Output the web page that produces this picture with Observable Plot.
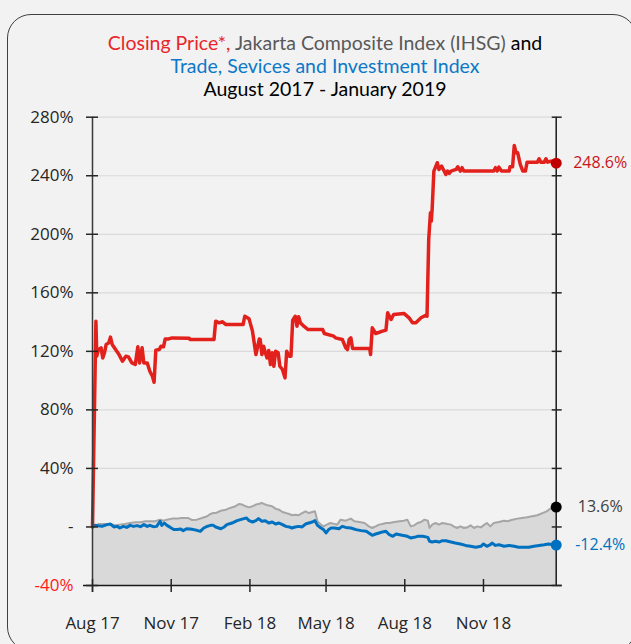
<!DOCTYPE html>
<html><head><meta charset="utf-8">
<script src="https://cdn.jsdelivr.net/npm/d3@7"></script>
<script src="https://cdn.jsdelivr.net/npm/@observablehq/plot@0.6"></script>
<style>
html,body{margin:0;padding:0;background:#f2f2f2;overflow:hidden;width:631px;height:644px;}
#wrap{position:relative;width:631px;height:644px;font-family:"Open Sans",sans-serif;}
#frame{position:absolute;left:7px;top:14px;width:630px;height:637px;border:1.5px solid #404040;border-radius:24px;box-sizing:border-box;}
#title{position:absolute;left:0;top:31px;width:650px;text-align:center;font-family:Lato,sans-serif;font-size:19.5px;line-height:23px;color:#000;}
#chart{position:absolute;left:0;top:0;}
</style></head><body>
<div id="wrap"><div id="frame"></div><div id="chart"></div>
<div id="title"><span style="color:#e8262a">Closing Price*,</span> <span style="color:#595959">Jakarta Composite Index (IHSG)</span> and<br><span style="color:#0d78c8">Trade, Sevices and Investment Index</span><br>August 2017 - January 2019</div>
</div>
<script>
const redDates = ["2017-08-01","2017-08-05","2017-08-06","2017-08-08","2017-08-11","2017-08-13","2017-08-15","2017-08-17","2017-08-20","2017-08-22","2017-08-24","2017-08-28","2017-09-01","2017-09-05","2017-09-09","2017-09-12","2017-09-16","2017-09-20","2017-09-23","2017-09-25","2017-09-28","2017-09-30","2017-10-04","2017-10-07","2017-10-10","2017-10-12","2017-10-14","2017-10-18","2017-10-20","2017-10-23","2017-10-25","2017-10-29","2017-11-02","2017-11-22","2017-11-23","2017-12-21","2017-12-23","2017-12-27","2017-12-31","2018-01-04","2018-01-24","2018-01-26","2018-01-31","2018-02-04","2018-02-08","2018-02-12","2018-02-13","2018-02-15","2018-02-17","2018-02-19","2018-02-21","2018-02-23","2018-02-25","2018-02-27","2018-03-01","2018-03-03","2018-03-06","2018-03-08","2018-03-11","2018-03-14","2018-03-16","2018-03-19","2018-03-21","2018-03-23","2018-03-26","2018-03-28","2018-03-30","2018-04-01","2018-04-05","2018-04-10","2018-04-13","2018-04-27","2018-04-29","2018-05-10","2018-05-12","2018-05-20","2018-05-24","2018-05-26","2018-05-28","2018-05-30","2018-06-01","2018-06-21","2018-06-22","2018-06-24","2018-06-28","2018-07-06","2018-07-10","2018-07-12","2018-07-16","2018-07-19","2018-07-31","2018-08-06","2018-08-10","2018-08-14","2018-08-20","2018-08-25","2018-08-27","2018-08-29","2018-08-31","2018-09-01","2018-09-02","2018-09-04","2018-09-08","2018-09-10","2018-09-13","2018-09-16","2018-09-18","2018-09-20","2018-09-22","2018-09-24","2018-09-30","2018-10-02","2018-10-05","2018-10-07","2018-10-09","2018-11-13","2018-11-15","2018-11-17","2018-11-19","2018-11-22","2018-12-01","2018-12-02","2018-12-05","2018-12-07","2018-12-09","2018-12-11","2018-12-14","2018-12-17","2018-12-20","2018-12-22","2019-01-03","2019-01-05","2019-01-07","2019-01-11","2019-01-13","2019-01-15","2019-01-19","2019-01-25"];
const redValues = [0,140.6,116.7,121.2,122.4,115.5,119.0,124.7,125.8,129.7,124.7,121.2,117.8,113.3,116.7,116.2,112.1,111.0,123.1,112.1,122.4,112.1,112.1,106.4,103.0,98.9,120.8,121.2,123.5,123.1,128.5,128.5,129.2,129.0,128.1,128.1,140.6,139.5,140.2,138.3,138.3,144.0,142.2,133.8,117.8,128.5,128.1,117.8,123.5,119.0,115.5,120.6,111.0,119.0,109.8,120.1,119.0,109.8,107.6,101.9,120.1,116.7,116.7,141.3,144.0,137.2,143.6,139.5,137.2,134.9,134.9,134.9,132.2,130.4,129.2,128.1,122.4,121.2,128.1,129.2,121.9,121.9,117.8,136.1,132.2,133.8,134.5,146.3,141.8,145.2,145.9,142.9,139.5,139.5,142.9,144.5,144.0,196.5,214.7,209.0,217.0,243.2,248.9,244.3,246.6,243.2,240.9,243.2,241.6,243.2,244.3,246.1,243.2,245.5,243.2,243.2,245.5,243.2,245.9,243.2,243.2,246.1,246.1,260.7,255.7,255.7,247.7,243.2,243.2,249.3,249.3,251.6,249.3,249.3,251.6,249.3,250.0,248.6];

const ihsgDates = ["2017-08-01","2017-08-08","2017-08-16","2017-08-22","2017-08-28","2017-09-02","2017-09-08","2017-09-14","2017-09-20","2017-09-26","2017-10-02","2017-10-07","2017-10-13","2017-10-19","2017-10-23","2017-10-27","2017-11-02","2017-11-08","2017-11-13","2017-11-21","2017-11-25","2017-12-01","2017-12-07","2017-12-13","2017-12-17","2017-12-20","2017-12-23","2017-12-29","2018-01-04","2018-01-09","2018-01-15","2018-01-19","2018-01-23","2018-01-27","2018-01-31","2018-02-04","2018-02-08","2018-02-11","2018-02-15","2018-02-19","2018-02-23","2018-02-27","2018-03-03","2018-03-07","2018-03-11","2018-03-15","2018-03-19","2018-03-22","2018-03-26","2018-03-30","2018-04-03","2018-04-07","2018-04-11","2018-04-15","2018-04-18","2018-04-21","2018-04-25","2018-04-28","2018-05-02","2018-05-06","2018-05-14","2018-05-18","2018-05-24","2018-05-30","2018-06-03","2018-06-09","2018-06-15","2018-06-20","2018-06-24","2018-06-28","2018-07-02","2018-07-06","2018-07-10","2018-07-14","2018-07-20","2018-07-26","2018-07-31","2018-08-04","2018-08-08","2018-08-12","2018-08-16","2018-08-20","2018-08-24","2018-08-28","2018-08-30","2018-09-02","2018-09-06","2018-09-10","2018-09-14","2018-09-20","2018-09-24","2018-09-27","2018-10-01","2018-10-05","2018-10-09","2018-10-13","2018-10-17","2018-10-21","2018-10-25","2018-10-29","2018-11-01","2018-11-05","2018-11-09","2018-11-13","2018-11-19","2018-11-25","2018-11-29","2018-12-05","2018-12-11","2018-12-16","2018-12-22","2018-12-28","2019-01-03","2019-01-09","2019-01-14","2019-01-18","2019-01-25"];
const ihsgValues = [0,2.0,2.0,2.0,1.1,1.6,2.0,2.7,3.2,3.2,3.9,3.9,3.9,5.0,4.3,5.0,5.7,5.7,6.1,6.1,4.8,5.0,6.1,7.3,8.9,9.5,9.5,11.1,11.8,13.0,14.1,15.7,15.3,14.1,13.4,14.1,15.3,15.7,16.4,15.3,14.6,14.1,12.5,11.8,10.2,9.5,8.9,8.0,8.4,8.0,9.5,10.7,9.5,10.2,10.7,3.9,1.6,0.4,1.6,2.7,1.6,5.0,4.3,5.7,3.9,3.4,2.7,0.4,-0.7,0.4,1.6,2.0,2.7,2.7,3.4,3.9,4.3,5.0,0.4,1.1,2.7,3.4,5.0,4.3,-0.7,1.6,2.7,1.6,2.7,2.0,1.6,0.4,-0.7,0.4,-0.7,-0.3,1.1,-0.7,0.4,-0.3,1.1,2.7,0.4,2.7,3.4,4.3,3.9,5.0,5.7,6.1,6.6,7.3,8.0,9.5,10.7,12.5,13.6];

const tsiDates = ["2017-08-01","2017-08-04","2017-08-12","2017-08-18","2017-08-22","2017-08-26","2017-08-30","2017-09-02","2017-09-06","2017-09-10","2017-09-14","2017-09-18","2017-09-22","2017-09-26","2017-09-30","2017-10-04","2017-10-07","2017-10-11","2017-10-15","2017-10-19","2017-10-21","2017-10-24","2017-10-27","2017-10-31","2017-11-04","2017-11-08","2017-11-12","2017-11-15","2017-11-19","2017-11-23","2017-11-27","2017-12-01","2017-12-05","2017-12-09","2017-12-13","2017-12-17","2017-12-20","2017-12-23","2017-12-29","2018-01-02","2018-01-05","2018-01-11","2018-01-17","2018-01-21","2018-01-25","2018-01-28","2018-01-31","2018-02-04","2018-02-08","2018-02-11","2018-02-15","2018-02-19","2018-02-23","2018-02-27","2018-03-03","2018-03-07","2018-03-11","2018-03-15","2018-03-19","2018-03-22","2018-03-26","2018-03-30","2018-04-03","2018-04-07","2018-04-11","2018-04-15","2018-04-18","2018-04-21","2018-04-25","2018-04-28","2018-05-01","2018-05-04","2018-05-07","2018-05-11","2018-05-16","2018-05-20","2018-05-24","2018-05-30","2018-06-05","2018-06-11","2018-06-17","2018-06-20","2018-06-24","2018-06-28","2018-07-02","2018-07-06","2018-07-10","2018-07-14","2018-07-18","2018-07-22","2018-07-26","2018-07-29","2018-08-04","2018-08-08","2018-08-12","2018-08-16","2018-08-22","2018-08-28","2018-08-30","2018-09-02","2018-09-06","2018-09-10","2018-09-14","2018-09-18","2018-09-24","2018-09-29","2018-10-05","2018-10-11","2018-10-17","2018-10-23","2018-10-29","2018-11-01","2018-11-05","2018-11-09","2018-11-11","2018-11-15","2018-11-19","2018-11-25","2018-12-01","2018-12-07","2018-12-12","2018-12-18","2018-12-24","2018-12-30","2019-01-05","2019-01-11","2019-01-16","2019-01-25"];
const tsiValues = [0,1.1,0.4,1.6,2.0,0,0.4,-0.7,0.4,-0.3,1.1,0.4,0.9,0.2,1.6,0.4,1.1,0.2,0.4,3.9,1.1,2.7,1.1,-0.3,-1.8,-1.8,-1.4,-2.5,-1.2,-1.4,-1.8,-2.3,-3.0,-0.7,0.4,1.1,1.1,0,-1.2,0,1.6,2.7,4.3,5.0,5.7,6.1,4.3,3.4,4.3,5.7,3.9,4.3,2.7,3.4,2.0,2.7,1.6,0.4,0,-0.7,0,0.4,0,2.0,2.7,3.4,4.3,1.1,-0.7,-1.8,-4.1,-1.8,-0.7,-0.7,-1.2,0.4,-0.3,-0.7,-1.8,-2.5,-3.0,-4.1,-5.7,-4.8,-4.1,-3.4,-3.0,-5.3,-6.4,-4.8,-5.3,-5.7,-6.4,-7.5,-7.1,-6.4,-6.4,-7.1,-9.8,-10.3,-9.8,-10.3,-9.4,-9.4,-10.3,-11.0,-11.6,-12.6,-13.2,-13.9,-13.2,-11.6,-13.2,-12.1,-11.0,-12.6,-12.1,-13.2,-12.6,-13.2,-13.9,-13.9,-13.9,-13.2,-12.6,-12.1,-11.6,-12.4];

const xTickDates = ["2017-08-01","2017-11-01","2018-02-01","2018-05-01","2018-08-01","2018-11-01"];
const xTickLabels = ["Aug 17","Nov 17","Feb 18","May 18","Aug 18","Nov 18"];
const yTicks = [-40,0,40,80,120,160,200,240,280];
const yTickLabels = ["-40%","-","40%","80%","120%","160%","200%","240%","280%"];
const endLabels = ["248.6%","13.6%","-12.4%"];
const xDomainDates = ["2017-08-01","2019-01-25"];

const rows = (ds, vs) => ds.map((d, i) => ({date: new Date(d), value: vs[i]}));
const red = rows(redDates, redValues);
const ihsg = rows(ihsgDates, ihsgValues);
const tsi = rows(tsiDates, tsiValues);
const xDomain = xDomainDates.map(d => new Date(d));
const xTicks = xTickDates.map(d => new Date(d));
const last = (a, label) => Object.assign({}, a[a.length - 1], {label});
const dark = "#262626";
const F = 17;

const chart = Plot.plot({
  width: 631, height: 644,
  marginLeft: 92, marginRight: 75.3, marginTop: 116.7, marginBottom: 59,
  style: {background: "transparent", fontFamily: "'Open Sans', sans-serif", fontSize: "16px", color: dark},
  x: {type: "utc", domain: xDomain},
  y: {domain: [-40, 280]},
  marks: [
    Plot.ruleY(yTicks.filter(v => v > -40), {stroke: "#dadada", strokeWidth: 1.2}),
    Plot.areaY(ihsg, {x: "date", y1: -40, y2: "value", fill: "#d9d9d9"}),
    Plot.lineY(ihsg, {x: "date", y: "value", stroke: "#a6a6a6", strokeWidth: 2}),
    Plot.lineY(tsi, {x: "date", y: "value", stroke: "#0070c0", strokeWidth: 3}),
    Plot.lineY(red, {x: "date", y: "value", stroke: "#e3211c", strokeWidth: 3.5}),
    Plot.ruleX([xDomain[0]], {y1: 280, y2: -40, stroke: "#3a3a3a", strokeWidth: 1.5, insetBottom: -7}),
    Plot.ruleX([xDomain[1]], {y1: 280, y2: -40, stroke: "#1a1a1a", strokeWidth: 1.5}),
    Plot.ruleY([-40], {stroke: "#1a1a1a", strokeWidth: 1.5, insetLeft: -9, insetRight: -6}),
    Plot.axisY({ticks: yTicks, anchor: "left", tickSize: 12, dx: 6, tickFormat: () => "", label: null, stroke: dark, strokeWidth: 1.5}),
    Plot.axisY({ticks: yTicks, anchor: "right", tickSize: 10, dx: -5, tickFormat: () => "", label: null, stroke: dark, strokeWidth: 1.5}),
    Plot.axisX({ticks: xTicks, tickSize: 13, dy: -6, tickFormat: () => "", label: null, stroke: dark, strokeWidth: 1.5}),
    Plot.text(yTicks.filter(v => v > -40), {x: () => xDomain[0], y: d => d, text: d => yTickLabels[yTicks.indexOf(d)], textAnchor: "end", dx: -19, fill: dark, fontSize: F}),
    Plot.text([-40], {x: () => xDomain[0], y: d => d, text: d => yTickLabels[yTicks.indexOf(d)], textAnchor: "end", dx: -19, fill: "#ff1a1a", fontSize: F}),
    Plot.text(xTicks, {x: d => d, y: () => -40, text: (d, i) => xTickLabels[i], dy: 38, fill: dark, fontSize: F}),
    Plot.dot([last(red)], {x: "date", y: "value", r: 5.5, fill: "#c00000"}),
    Plot.dot([last(ihsg)], {x: "date", y: "value", r: 5.5, fill: "#000000"}),
    Plot.dot([last(tsi)], {x: "date", y: "value", r: 5.5, fill: "#0070c0"}),
    Plot.text([last(red, endLabels[0])], {x: "date", y: "value", text: "label", dx: 44, fill: "#c8161c", fontSize: 16}),
    Plot.text([last(ihsg, endLabels[1])], {x: "date", y: "value", text: "label", dx: 44, fill: "#404040", fontSize: 16}),
    Plot.text([last(tsi, endLabels[2])], {x: "date", y: "value", text: "label", dx: 44, fill: "#0070c0", fontSize: 16})
  ]
});
document.getElementById("chart").appendChild(chart);
</script>
</body></html>
